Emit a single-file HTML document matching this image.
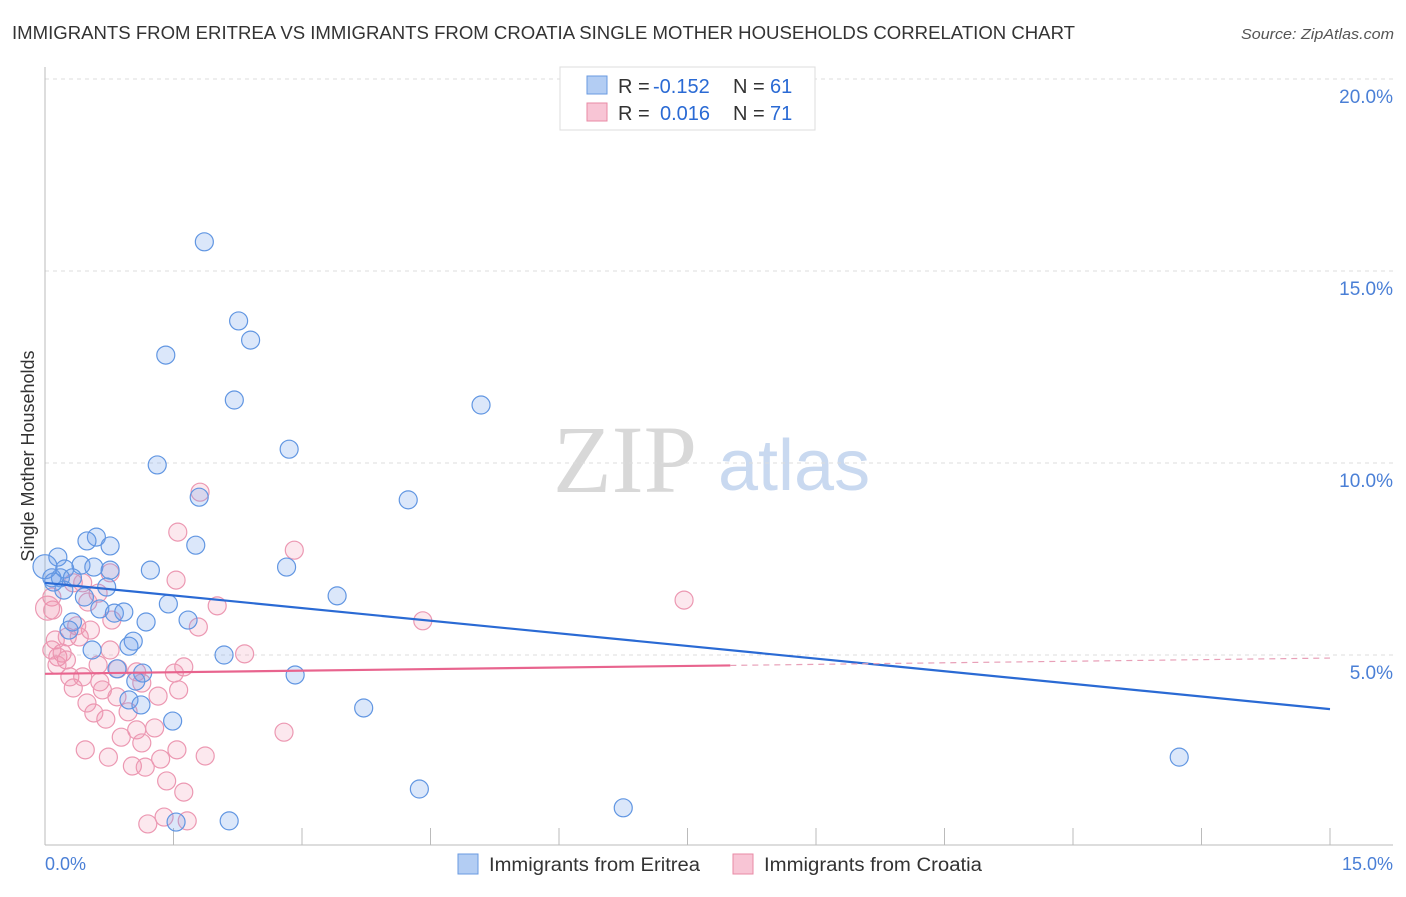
<!DOCTYPE html>
<html><head><meta charset="utf-8"><style>
body{margin:0;background:#fff;font-family:"Liberation Sans",sans-serif;}
</style></head><body>
<svg id="chart" width="1406" height="892" xmlns="http://www.w3.org/2000/svg">
<text x="12" y="39" font-size="18" fill="#333" textLength="1063" lengthAdjust="spacingAndGlyphs">IMMIGRANTS FROM ERITREA VS IMMIGRANTS FROM CROATIA SINGLE MOTHER HOUSEHOLDS CORRELATION CHART</text>
<text x="1241" y="39" font-size="15" fill="#555" font-style="italic" textLength="153" lengthAdjust="spacingAndGlyphs">Source: ZipAtlas.com</text>
<g>
<text x="553" y="492" font-family="Liberation Serif,serif" font-size="96" fill="#d8d8d8">ZIP</text>
<text x="718" y="490" font-size="72" fill="#c9d9f0">atlas</text>
</g>
<g id="grid"></g>
<line x1="45" y1="67" x2="45" y2="845" stroke="#bbb"/>
<line x1="45" y1="845" x2="1393" y2="845" stroke="#bbb"/>
<text transform="translate(34,456) rotate(-90)" font-size="18" fill="#333" text-anchor="middle">Single Mother Households</text>
<text x="45" y="870" font-size="18" fill="#4a7fd6">0.0%</text>
<text x="1393" y="870" font-size="18" fill="#4a7fd6" text-anchor="end">15.0%</text>
<g id="points"></g>
<g id="trends"></g>
<g>
<rect x="560" y="67" width="255" height="63" fill="#fff" stroke="#ddd"/>
<rect x="587" y="76" width="20" height="18" fill="#b3cdf3" stroke="#6a9ae0"/>
<rect x="587" y="103" width="20" height="18" fill="#f8c5d5" stroke="#e88aa5"/>
<text x="618" y="93" font-size="20" fill="#333">R =</text>
<text x="653" y="93" font-size="20" fill="#2a6ad4">-0.152</text>
<text x="733" y="93" font-size="20" fill="#333">N =</text>
<text x="770" y="93" font-size="20" fill="#2a6ad4">61</text>
<text x="618" y="120" font-size="20" fill="#333">R =</text>
<text x="660" y="120" font-size="20" fill="#2a6ad4">0.016</text>
<text x="733" y="120" font-size="20" fill="#333">N =</text>
<text x="770" y="120" font-size="20" fill="#2a6ad4">71</text>
</g>
<g>
<rect x="458" y="854" width="20" height="20" fill="#b3cdf3" stroke="#6a9ae0"/>
<text x="489" y="871" font-size="19" fill="#333" textLength="211" lengthAdjust="spacingAndGlyphs">Immigrants from Eritrea</text>
<rect x="733" y="854" width="20" height="20" fill="#f8c5d5" stroke="#e88aa5"/>
<text x="764" y="871" font-size="19" fill="#333" textLength="218" lengthAdjust="spacingAndGlyphs">Immigrants from Croatia</text>
</g>
</svg>
<script>
const yTicks=[5,10,15,20];
const yTickLabels=["5.0%","10.0%","15.0%","20.0%"];
const xTicks=[1.5,3,4.5,6,7.5,9,10.5,12,13.5,15];
const eritreaX=[1.86,2.26,2.40,1.41,2.21,5.09,2.85,1.31,1.80,4.24,0.60,0.49,0.76,1.76,0.15,1.23,2.82,0.42,0.57,0.23,0.08,0.18,0.0,3.41,0.72,1.44,0.64,0.81,0.46,1.67,1.18,1.03,0.98,0.32,2.09,0.55,0.84,1.14,2.92,1.06,0.98,1.12,3.72,1.49,4.37,6.75,1.53,2.15,13.24,0.32,0.76,0.22,0.92,0.28,0.10];
const eritreaY=[15.76,13.70,13.20,12.81,11.64,11.51,10.36,9.95,9.11,9.04,8.07,7.97,7.84,7.86,7.55,7.21,7.29,7.34,7.29,7.24,7.01,7.01,7.3,6.54,6.77,6.33,6.20,6.09,6.51,5.91,5.86,5.36,5.23,5.86,5.00,5.13,4.64,4.53,4.48,4.32,3.83,3.70,3.62,3.28,1.51,1.02,0.65,0.68,2.34,7.01,7.21,6.69,6.12,5.65,6.9];
const croatiaX=[1.55,2.91,0.76,1.53,2.01,1.79,2.33,1.62,1.51,1.32,1.56,2.79,0.47,0.74,1.02,1.17,1.35,1.54,1.87,1.42,1.62,1.20,1.39,1.66,1.28,1.07,1.13,0.89,0.71,0.57,0.49,0.33,0.29,0.44,0.64,0.67,0.84,0.97,1.13,1.07,0.62,0.85,0.15,0.20,0.12,0.26,0.40,0.53,0.37,0.09,0.08,0.62,0.50,0.33,0.44,0.78,7.46,4.41,1.81,0.03,0.08,0.25,0.14,0.76];
const croatiaY=[8.20,7.73,7.14,6.95,6.28,5.73,5.03,4.69,4.53,3.93,4.09,2.99,2.53,2.34,2.11,2.08,2.29,2.53,2.37,1.72,1.43,0.60,0.78,0.68,3.10,3.05,2.71,2.86,3.33,3.49,3.75,4.14,4.43,4.43,4.30,4.09,3.91,3.52,4.27,4.56,4.74,4.64,4.95,5.05,5.39,5.47,5.47,5.65,5.76,6.17,6.51,6.61,6.38,6.88,6.88,5.91,6.43,5.89,9.24,6.22,5.13,4.87,4.74,5.13];
const eritreaTrend=[6.88,3.59];
const croatiaTrend=[4.51,4.92];
const croatiaSolidEnd=8;
const NS="http://www.w3.org/2000/svg";
const xs=v=>45+v*(1330-45)/15;
const ys=v=>847-v*38.4;
function mk(tag,attrs,parent){const e=document.createElementNS(NS,tag);for(const k in attrs)e.setAttribute(k,attrs[k]);parent.appendChild(e);return e;}
const grid=document.getElementById('grid');
yTicks.forEach((t,i)=>{
 const l=mk('line',{x1:45,x2:1393,y1:ys(t),y2:ys(t),stroke:'#ddd','stroke-dasharray':'4,4'},grid);
 
 
 const tx=mk('text',{x:1393,y:ys(t)+24,'font-size':19,fill:'#4a7fd6','text-anchor':'end'},grid);
 tx.textContent=yTickLabels[i];
 
 
});
xTicks.forEach(t=>{
 const l=mk('line',{x1:xs(t),x2:xs(t),y1:828,y2:845,stroke:'#bbb'},grid);
 
 
});
const pts=document.getElementById('points');
croatiaX.forEach((x,i)=>{
 const c=mk('circle',{cx:xs(x),cy:ys(croatiaY[i]),r:(i==59?12:9),fill:'rgba(240,140,170,0.2)',stroke:'#ec98b2','stroke-width':1.2},pts);
 
 
});
eritreaX.forEach((x,i)=>{
 const c=mk('circle',{cx:xs(x),cy:ys(eritreaY[i]),r:(i==22?12:9),fill:'rgba(110,160,235,0.25)',stroke:'#6196e2','stroke-width':1.2},pts);
 
 
});
const tr=document.getElementById('trends');
const bl=mk('line',{x1:xs(0),y1:ys(eritreaTrend[0]),x2:xs(15),y2:ys(eritreaTrend[1]),stroke:'#2a6ad4','stroke-width':2.2},tr);


const pAt=x=>croatiaTrend[0]+(croatiaTrend[1]-croatiaTrend[0])*x/15;
const pl=mk('line',{x1:xs(0),y1:ys(pAt(0)),x2:xs(croatiaSolidEnd),y2:ys(pAt(croatiaSolidEnd)),stroke:'#e8648e','stroke-width':2.2},tr);


const pd=mk('line',{x1:xs(croatiaSolidEnd),y1:ys(pAt(croatiaSolidEnd)),x2:xs(15),y2:ys(pAt(15)),stroke:'#e8a0b8','stroke-width':1.2,'stroke-dasharray':'6,5'},tr);


</script>
</body></html>
